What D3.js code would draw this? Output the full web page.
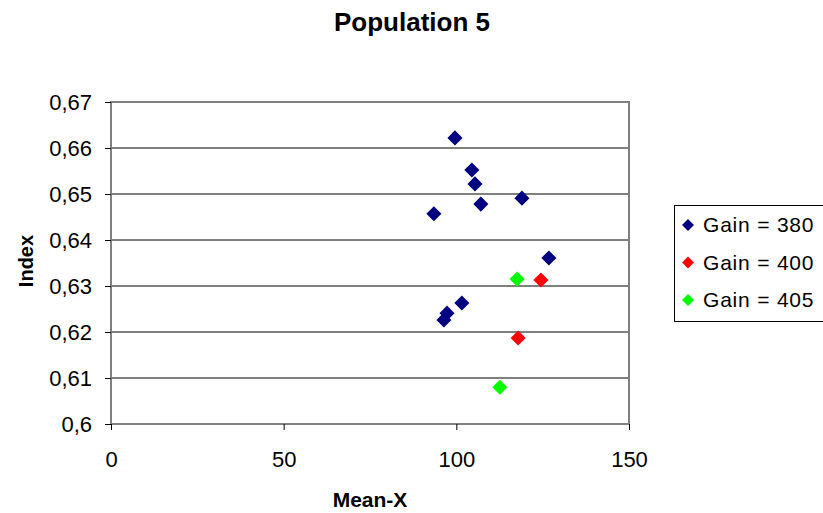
<!DOCTYPE html>
<html>
<head>
<meta charset="utf-8">
<script src="https://cdn.jsdelivr.net/npm/d3@7"></script>
<style>
body { margin: 0; background: #fff; }
text { font-family: "Liberation Sans", Arial, sans-serif; }
</style>
</head>
<body>
<div id="chart"></div>
<script>
// data
var seriesNames = ['Gain = 380', 'Gain = 400', 'Gain = 405'];
var seriesColors = ['#000080', '#ff0000', '#00ff00'];
var gain380X = [99.6, 104.5, 105.4, 107.1, 119.0, 93.5, 126.8, 101.6, 97.3, 96.4];
var gain380Y = [0.6622, 0.6552, 0.6522, 0.6478, 0.6491, 0.6457, 0.6361, 0.6263, 0.6241, 0.6226];
var gain400X = [124.5, 117.9];
var gain400Y = [0.6313, 0.6187];
var gain405X = [117.6, 112.6];
var gain405Y = [0.6315, 0.6080];
var xTicks = [0, 50, 100, 150];
var yTicks = [0.6, 0.61, 0.62, 0.63, 0.64, 0.65, 0.66, 0.67];

var width = 823;
var height = 513;
var plot = {left: 111, top: 102, right: 629, bottom: 424};

var svg = d3.select('#chart')
    .append('svg')
    .attr('width', width)
    .attr('height', height);

var xScale = d3.scaleLinear().domain([0, 150]).range([plot.left, plot.right]);
var yScale = d3.scaleLinear().domain([0.6, 0.67]).range([plot.bottom, plot.top]);

// gridlines
svg.append('g')
    .selectAll('line')
    .data(yTicks.slice(1, -1))
    .enter()
    .append('line')
    .attr('x1', plot.left)
    .attr('x2', plot.right)
    .attr('y1', function (d) { return yScale(d); })
    .attr('y2', function (d) { return yScale(d); })
    .attr('stroke', '#000')
    .attr('stroke-width', 1);

// plot border
svg.append('rect')
    .attr('x', plot.left)
    .attr('y', plot.top)
    .attr('width', plot.right - plot.left)
    .attr('height', plot.bottom - plot.top)
    .attr('fill', 'none')
    .attr('stroke', '#808080')
    .attr('stroke-width', 2);

var fmt = function (d) { return d3.format('.2~f')(d).replace('.', ','); };

var xAxis = d3.axisBottom(xScale).tickValues(xTicks).tickSize(6).tickSizeOuter(0).tickPadding(21);
var yAxis = d3.axisLeft(yScale).tickValues(yTicks).tickFormat(fmt).tickSize(6).tickSizeOuter(0).tickPadding(13);

var gx = svg.append('g')
    .attr('transform', 'translate(0,' + plot.bottom + ')')
    .call(xAxis);
var gy = svg.append('g')
    .attr('transform', 'translate(' + plot.left + ',0)')
    .call(yAxis);
[gx, gy].forEach(function (g) {
    g.select('.domain').remove();
    g.selectAll('.tick line').attr('stroke', '#000');
    g.selectAll('.tick text')
        .attr('fill', '#000')
        .style('font-size', '22px')
        .style('font-family', '"Liberation Sans", Arial, sans-serif');
});

// points
var diamond = d3.symbol().type(d3.symbolDiamond2).size(145);
var allSeries = [
    {x: gain380X, y: gain380Y},
    {x: gain400X, y: gain400Y},
    {x: gain405X, y: gain405Y}
];
allSeries.forEach(function (s, k) {
    svg.append('g')
        .selectAll('path')
        .data(s.x)
        .enter()
        .append('path')
        .attr('d', diamond)
        .attr('transform', function (d, i) {
            return 'translate(' + xScale(d) + ',' + yScale(s.y[i]) + ')';
        })
        .attr('fill', seriesColors[k]);
});

// title and axis labels
svg.append('text')
    .attr('x', 412)
    .attr('y', 31)
    .attr('text-anchor', 'middle')
    .style('font-size', '26px')
    .style('font-weight', 'bold')
    .text('Population 5');
svg.append('text')
    .attr('x', 370)
    .attr('y', 507)
    .attr('text-anchor', 'middle')
    .style('font-size', '21px')
    .style('font-weight', 'bold')
    .text('Mean-X');
svg.append('text')
    .attr('transform', 'translate(33,261) rotate(-90)')
    .attr('text-anchor', 'middle')
    .style('font-size', '20px')
    .style('font-weight', 'bold')
    .text('Index');

// legend
var legendDiamond = d3.symbol().type(d3.symbolDiamond2).size(90);
var legend = svg.append('g');
legend.append('rect')
    .attr('x', 674.5)
    .attr('y', 205.5)
    .attr('width', 160)
    .attr('height', 116)
    .attr('fill', '#fff')
    .attr('stroke', '#000');
seriesNames.forEach(function (name, k) {
    var cy = 225 + k * 37.5;
    legend.append('path')
        .attr('d', legendDiamond)
        .attr('transform', 'translate(688,' + cy + ')')
        .attr('fill', seriesColors[k]);
    legend.append('text')
        .attr('x', 703)
        .attr('y', cy + 7)
        .style('font-size', '21px')
        .style('letter-spacing', '0.8px')
        .text(name);
});
</script>
</body>
</html>
